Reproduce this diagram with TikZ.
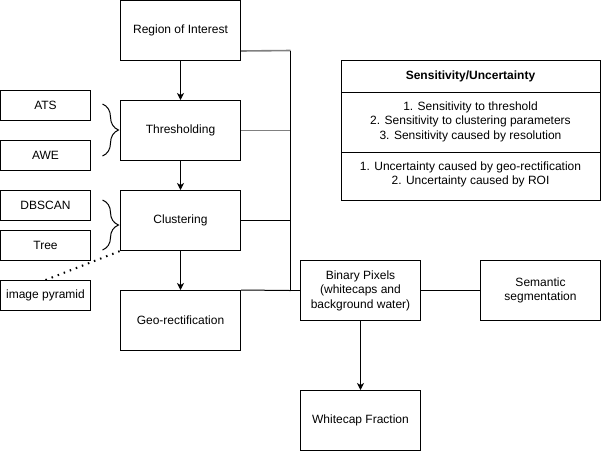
\documentclass[tikz,border=0pt]{standalone}
\usepackage{fontspec}
\setmainfont{Liberation Sans}
\usetikzlibrary{arrows.meta,decorations.pathreplacing}
\begin{document}
\begin{tikzpicture}[x=1pt,y=-1pt,
  txt/.style={font=\fontsize{12pt}{14.5pt}\selectfont},
  box/.style={draw, line width=1pt, minimum width=120pt, minimum height=60pt, inner sep=0pt, align=center, txt},
  sbox/.style={draw, line width=1pt, minimum width=90pt, minimum height=30pt, inner sep=0pt, align=center, txt},
  ln/.style={draw, line width=1pt},
  gl/.style={draw, line width=1.6pt, black!50},
  arr/.style={ln, -{Stealth[length=7pt,width=7pt,inset=2pt]}},
  brc/.style={ln, decorate, decoration={brace, amplitude=16pt}},
  dots/.style={line width=2pt, dash pattern=on 1.5pt off 5pt}
]
\useasboundingbox (0,0) rectangle (601,451);
\node[box] (roi) at (180.5,30.5) {Region of Interest};
\node[box] (thr) at (180.5,130.5) {Thresholding};
\node[box] (clu) at (180.5,220.5) {Clustering};
\node[box] (geo) at (180.5,320.5) {Geo-rectification};
\node[sbox] (ats) at (45.5,105.5) {ATS};
\node[sbox] (awe) at (45.5,155.5) {AWE};
\node[sbox] (dbs) at (45.5,205.5) {DBSCAN};
\node[sbox] (tree) at (45.5,245.5) {Tree};
\node[sbox] (pyr) at (45.5,295.5) {image pyramid};
\node[box] (bin) at (360.5,290.5) {Binary Pixels\\(whitecaps and\\background water)};
\node[box] (sem) at (540.5,290.5) {Semantic\\segmentation};
\node[box] (wf) at (360.5,420.5) {Whitecap Fraction};
% table
\node[draw, line width=1pt, minimum width=259pt, minimum height=140pt, inner sep=0pt] (tab) at (470.5,130.5) {};
\coordinate (s1) at (341.5,92.5);
\coordinate (s2) at (341.5,152.5);
\draw[ln] (s1) -- (s1 -| tab.east);
\draw[ln] (s2) -- (s2 -| tab.east);
\node[txt, font=\fontsize{12pt}{14.5pt}\selectfont\bfseries] (t0) at (470.5,76) {Sensitivity/Uncertainty};
\node[txt, align=center] (t1) at (470.5,121.5) {1. Sensitivity to threshold\\2. Sensitivity to clustering parameters\\3. Sensitivity caused by resolution};
\node[txt, align=center] (t2) at (470.5,174.5) {1. Uncertainty caused by geo-rectification\\2. Uncertainty caused by ROI};
% connectors
\coordinate (bt) at (290.5,50.5);
\coordinate (bus) at (290.5,290.5);
\draw[arr] (roi.south) -- (thr.north);
\draw[arr] (thr.south) -- (clu.north);
\draw[arr] (clu.south) -- (geo.north);
\draw[arr] (bin.south) -- (wf.north);
\draw[gl] ([yshift=10pt]roi.south east) -- (bt);
\draw[gl] (thr.east) -- (thr.east -| bt);
\draw[ln] (clu.east) -- (clu.east -| bt);
\draw[ln] (bt) -- (bus) -- (bin.west);
\draw[ln] (geo.north east) -- (bus);
\draw[ln] (bin.east) -- (sem.west);
\draw[dots] (pyr.north) -- (clu.south west);
\draw[brc] (102.5,104) -- (102.5,156);
\draw[brc] (102.5,200) -- (102.5,250);
\end{tikzpicture}
\end{document}
